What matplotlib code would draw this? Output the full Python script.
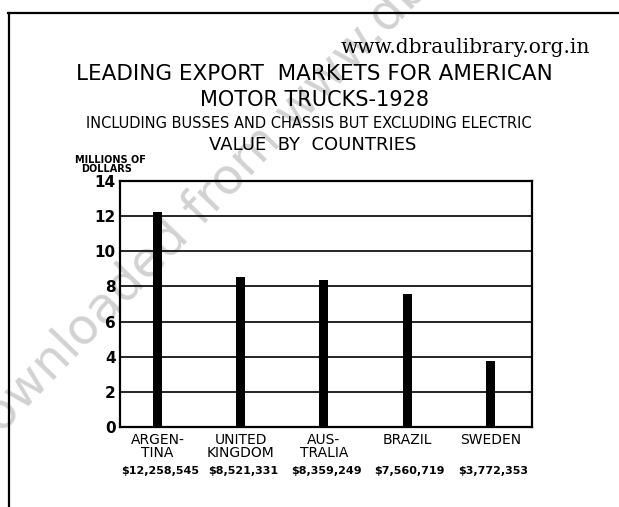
import numpy as np
import matplotlib
matplotlib.use('Agg')
import matplotlib.pyplot as plt
from matplotlib.lines import Line2D

# data (millions of dollars)
countries = ['ARGEN-\nTINA', 'UNITED\nKINGDOM', 'AUS-\nTRALIA', 'BRAZIL', 'SWEDEN']
values = [12.258545, 8.521331, 8.359249, 7.560719, 3.772353]
value_labels = ['$12,258,545', '$8,521,331', '$8,359,249', '$7,560,719', '$3,772,353']
yticks = [0, 2, 4, 6, 8, 10, 12, 14]

W, H = 619, 507
fig = plt.figure(figsize=(W / 100, H / 100), dpi=100)
fig.patch.set_facecolor('white')


def fx(px):
    return px / W


def fy(py):
    return 1 - py / H


# scanned page watermark, behind everything
fig.text(fx(331), fy(74), 'Downloaded from www.dbraulibrary.org.in',
         fontsize=36, color='#d2d2d2', rotation=46, rotation_mode='anchor',
         ha='center', va='center', zorder=-5)

# page frame
fig.add_artist(Line2D([fx(8), 1], [fy(13), fy(13)], color='black', lw=1.6))
fig.add_artist(Line2D([fx(9), fx(9)], [0, fy(13)], color='black', lw=1.6))

# titles
fig.text(fx(590), fy(53), 'www.dbraulibrary.org.in', family='DejaVu Serif',
         fontsize=14.5, ha='right', va='baseline')
fig.text(fx(314), fy(74), 'LEADING EXPORT  MARKETS FOR AMERICAN',
         fontsize=15.5, ha='center', va='center')
fig.text(fx(315), fy(100), 'MOTOR TRUCKS-1928', fontsize=15,
         ha='center', va='center')
fig.text(fx(309), fy(123), 'INCLUDING BUSSES AND CHASSIS BUT EXCLUDING ELECTRIC',
         fontsize=10.5, ha='center', va='center')
fig.text(fx(313), fy(145), 'VALUE  BY  COUNTRIES', fontsize=13,
         ha='center', va='center')
fig.text(fx(110), fy(160), 'MILLIONS OF', fontsize=7, fontweight='bold',
         ha='center', va='center')
fig.text(fx(107), fy(168.5), 'DOLLARS', fontsize=7, fontweight='bold',
         ha='center', va='center')

ax = fig.add_axes([fx(120), fy(427), fx(532) - fx(120), fy(181) - fy(427)])
ax.patch.set_alpha(0)

x = np.arange(len(countries))
ax.bar(x, values, width=0.11, color='black', zorder=3)

ax.set_ylim(0, 14)
ax.set_xlim(-0.45, 4.5)
ax.set_yticks(yticks)
ax.set_yticklabels([str(t) for t in yticks], fontsize=11, fontweight='bold')
ax.set_xticks(x)
ax.set_xticklabels(countries, fontsize=10, linespacing=0.95)
ax.tick_params(axis='both', length=0, pad=3)
ax.tick_params(axis='x', pad=4)

for t in yticks[1:-1]:
    ax.axhline(t, color='black', lw=1.2, zorder=2)

for s in ax.spines.values():
    s.set_linewidth(1.6)
    s.set_color('black')

for xi, lab in zip(x, value_labels):
    ax.annotate(lab, (xi, 0), xycoords=('data', 'axes fraction'),
                xytext=(2, -28), textcoords='offset points',
                ha='center', va='top', fontsize=8, fontweight='bold')

fig.savefig('out.png', dpi=100)
